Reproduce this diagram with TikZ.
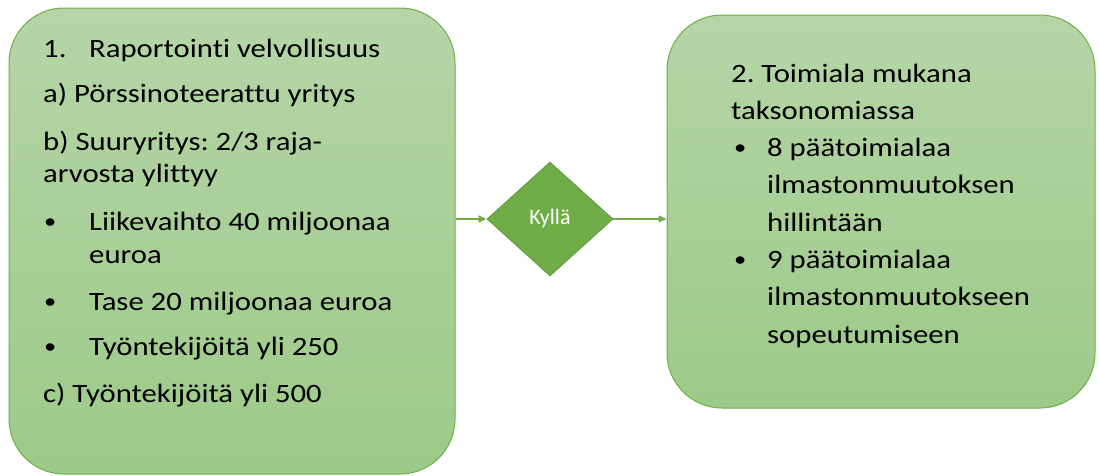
\documentclass[tikz,border=0pt]{standalone}
\usepackage{fontspec}
\setmainfont{Carlito}[Ligatures=CommonOff]
\newfontfamily\boxfont{Carlito}[FakeStretch=1.16, Ligatures=CommonOff]
\usepackage{xcolor}
\usetikzlibrary{
  arrows.meta,
  shapes.geometric
}
\definecolor{grline}{HTML}{70AD47}
\definecolor{grdark}{HTML}{5E9A3A}
\definecolor{grtop} {HTML}{B6D5A7}
\definecolor{grbot} {HTML}{9CCA88}
\frenchspacing
\newcommand\listbul{\raisebox{2pt}{\scalebox{0.8}{•}}}

\begin{document}
\begin{tikzpicture}[
  x=1pt, y=-1pt,
  box/.style={rectangle, rounded corners=55pt, draw=grline, line width=1pt,
              top color=grtop, bottom color=grbot, inner sep=0pt},
  txt/.style={anchor=base west, inner sep=0pt, align=left},
  cond/.style={diamond, draw=grdark, fill=grline, line width=0.8pt,
               minimum width=126pt, minimum height=114pt, inner sep=0pt,
               text=white, font=\fontsize{22}{24}\selectfont},
  arr/.style={-{Triangle[length=8pt, width=7pt]}, draw=grline, line width=1.5pt},
]
\useasboundingbox (0,0) rectangle (1099,475);

\node[box, minimum width=446pt, minimum height=466pt] (lbox) at (232,241) {};
\node[box, minimum width=428pt, minimum height=393pt] (rbox) at (881,211.5) {};
\node[cond] (kyl) at (550,219) {Kyllä};

% left list
\node[txt] (ltext) at (43,57) {\parbox[t]{420pt}{\boxfont\fontsize{26.5}{32.5}\selectfont
  \makebox[46pt][l]{1.}Raportointi velvollisuus\\[12.5pt]
  a) Pörssinoteerattu yritys\\[15.5pt]
  b) Suuryritys: 2/3 raja-\\
  arvosta ylittyy\\[15.5pt]
  \makebox[46pt][l]{\hspace*{1pt}\listbul}Liikevaihto 40 miljoonaa\\
  \hspace*{46pt}euroa\\[14.5pt]
  \makebox[46pt][l]{\hspace*{1pt}\listbul}Tase 20 miljoonaa euroa\\[12.5pt]
  \makebox[46pt][l]{\hspace*{1pt}\listbul}Työntekijöitä yli 250\\[14.5pt]
  c) Työntekijöitä yli 500}};

% right list
\node[txt] (rtext) at (731,82) {\parbox[t]{360pt}{\boxfont\fontsize{26.5}{37.3}\selectfont
  2. Toimiala mukana\\
  taksonomiassa\\
  \makebox[36pt][l]{\hspace*{3pt}\listbul}8 päätoimialaa\\
  \hspace*{36pt}ilmastonmuutoksen\\
  \hspace*{36pt}hillintään\\
  \makebox[36pt][l]{\hspace*{3pt}\listbul}9 päätoimialaa\\
  \hspace*{36pt}ilmastonmuutokseen\\
  \hspace*{36pt}sopeutumiseen}};

\draw[arr] (kyl.west -| lbox.east) -- (kyl.west);
\draw[arr] (kyl.east) -- (kyl.east -| rbox.west);
\end{tikzpicture}
\end{document}
